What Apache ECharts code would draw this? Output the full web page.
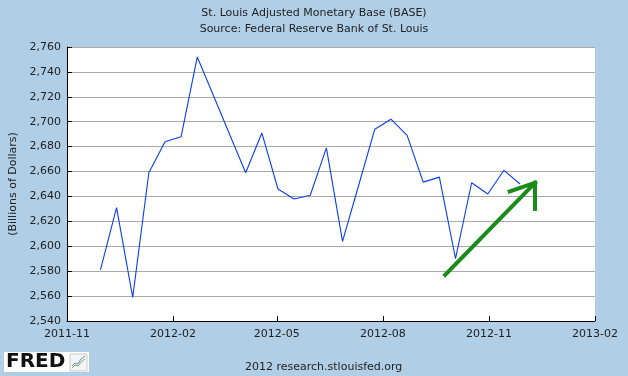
<!DOCTYPE html>
<html>
<head>
<meta charset="utf-8">
<title>St. Louis Adjusted Monetary Base</title>
<script src="https://cdn.jsdelivr.net/npm/echarts@6/dist/echarts.min.js"></script>
<style>
  html, body { margin: 0; padding: 0; background: #b0cfe7; }
  #chart { width: 628px; height: 376px; }
</style>
</head>
<body>
<div id="chart"></div>
<script>
// biweekly observations (billions of dollars)
var dates = [
  '2011-11-30', '2011-12-14', '2011-12-28', '2012-01-11', '2012-01-25', '2012-02-08',
  '2012-02-22', '2012-03-07', '2012-03-21', '2012-04-04', '2012-04-18', '2012-05-02',
  '2012-05-16', '2012-05-30', '2012-06-13', '2012-06-27', '2012-07-11', '2012-07-25',
  '2012-08-08', '2012-08-22', '2012-09-05', '2012-09-19', '2012-10-03', '2012-10-17',
  '2012-10-31', '2012-11-14', '2012-11-28'
]
var baseValues = [
  2581, 2631, 2559, 2659, 2684, 2688,
  2752, 2721, 2690, 2659, 2691, 2646,
  2638, 2641, 2679, 2604, 2649, 2694,
  2702, 2689, 2651.5, 2655.5, 2590, 2651,
  2642, 2661, 2650
]
var xTicks = ['2011-11-01', '2012-02-01', '2012-05-01', '2012-08-01', '2012-11-01', '2013-02-01']
var yMin = 2540
var yMax = 2760
var yStep = 20

// hand drawn green arrow, in data coordinates
var arrowShaft = [['2012-09-24', 2577], ['2012-12-11', 2651]]
var arrowBarbs = [
  [['2012-11-19', 2644], ['2012-12-11', 2651]],
  [['2012-12-11', 2651], ['2012-12-11', 2630]]
]

// dates become day numbers counted from the first tick
var DAY = 86400000
var origin = Date.UTC(2011, 10, 1)
function dayNum(d) {
  var p = d.split('-')
  return Math.round((Date.UTC(+p[0], +p[1] - 1, +p[2]) - origin) / DAY)
}
function pad(n) {
  return n < 10 ? '0' + n : '' + n
}
function dayLabel(v) {
  var d = new Date(origin + v * DAY)
  return d.getUTCFullYear() + '-' + pad(d.getUTCMonth() + 1)
}

var font = 'DejaVu Sans'
var myChart = echarts.init(document.getElementById('chart'), null, { renderer: 'canvas' })

var seriesData = dates.map(function (d, i) {
  return [dayNum(d), baseValues[i]]
})
var tickDays = xTicks.map(dayNum)
var arrowLines = [arrowShaft].concat(arrowBarbs).map(function (seg) {
  return [
    { coord: [dayNum(seg[0][0]), seg[0][1]] },
    { coord: [dayNum(seg[1][0]), seg[1][1]] }
  ]
})

var option = {
  backgroundColor: '#b0cfe7',
  animation: false,
  title: [
    {
      text: 'St. Louis Adjusted Monetary Base (BASE)\nSource: Federal Reserve Bank of St. Louis',
      left: 'center',
      top: 0,
      textStyle: {
        fontFamily: font,
        fontSize: 11,
        fontWeight: 'normal',
        lineHeight: 16,
        color: '#222'
      }
    },
    {
      text: '2012 research.stlouisfed.org',
      left: 240,
      top: 357,
      textStyle: {
        fontFamily: font,
        fontSize: 11,
        fontWeight: 'normal',
        color: '#222'
      }
    }
  ],
  grid: {
    left: 67,
    right: 33,
    top: 47,
    bottom: 55,
    outerBoundsMode: 'none',
    containLabel: false,
    show: true,
    backgroundColor: '#fff',
    borderWidth: 0
  },
  xAxis: {
    type: 'value',
    min: tickDays[0],
    max: tickDays[tickDays.length - 1],
    axisLine: {
      show: true,
      lineStyle: { color: '#000', width: 1 }
    },
    axisTick: {
      show: true,
      inside: true,
      length: 5,
      customValues: tickDays,
      lineStyle: { color: '#000' }
    },
    axisLabel: {
      customValues: tickDays,
      margin: 8,
      fontFamily: font,
      fontSize: 11,
      color: '#222',
      showMinLabel: true,
      showMaxLabel: true,
      formatter: function (value) {
        return dayLabel(value)
      }
    },
    splitLine: { show: false }
  },
  yAxis: {
    type: 'value',
    min: yMin,
    max: yMax,
    interval: yStep,
    name: '(Billions of Dollars)',
    nameLocation: 'middle',
    nameRotate: 90,
    nameGap: 48,
    nameTextStyle: {
      fontFamily: font,
      fontSize: 11,
      color: '#222'
    },
    axisLine: {
      show: true,
      lineStyle: { color: '#000', width: 1 }
    },
    axisTick: {
      show: true,
      inside: true,
      length: 5,
      lineStyle: { color: '#000' }
    },
    axisLabel: {
      margin: 6,
      fontFamily: font,
      fontSize: 11,
      color: '#222',
      formatter: function (value) {
        return value.toLocaleString('en-US')
      }
    },
    splitLine: {
      show: true,
      lineStyle: { color: '#aaa', width: 1 }
    }
  },
  series: [
    {
      type: 'line',
      name: 'BASE',
      data: seriesData,
      showSymbol: false,
      symbol: 'none',
      lineStyle: { color: '#0a3cff', width: 1.1 },
      silent: true,
      markLine: {
        silent: true,
        symbol: ['none', 'none'],
        label: { show: false },
        lineStyle: { color: '#1a8c1a', width: 4, type: 'solid', cap: 'square' },
        emphasis: { disabled: true },
        data: arrowLines
      }
    }
  ],
  graphic: [
    {
      type: 'group',
      left: 4,
      top: 352,
      children: [
        { type: 'rect', shape: { x: 0, y: 0, width: 85, height: 20 }, style: { fill: '#fff' } },
        {
          type: 'text',
          x: 2,
          y: 10,
          style: {
            text: 'FRED',
            fontFamily: font,
            fontWeight: 'bold',
            fontSize: 20,
            fill: '#111',
            verticalAlign: 'middle'
          }
        },
        { type: 'rect', shape: { x: 66, y: 2, width: 17, height: 17 }, style: { fill: '#f4f4f4', stroke: '#ccc', lineWidth: 1 } },
        { type: 'polyline', shape: { points: [[68, 16], [71, 13], [74, 14], [77, 10], [81, 7]] }, style: { stroke: '#7aa86a', lineWidth: 1, fill: null } },
        { type: 'polyline', shape: { points: [[68, 14], [71, 11], [74, 12], [77, 7], [81, 4]] }, style: { stroke: '#6a8fc8', lineWidth: 1, fill: null } }
      ]
    }
  ]
}

myChart.setOption(option)
</script>
</body>
</html>
